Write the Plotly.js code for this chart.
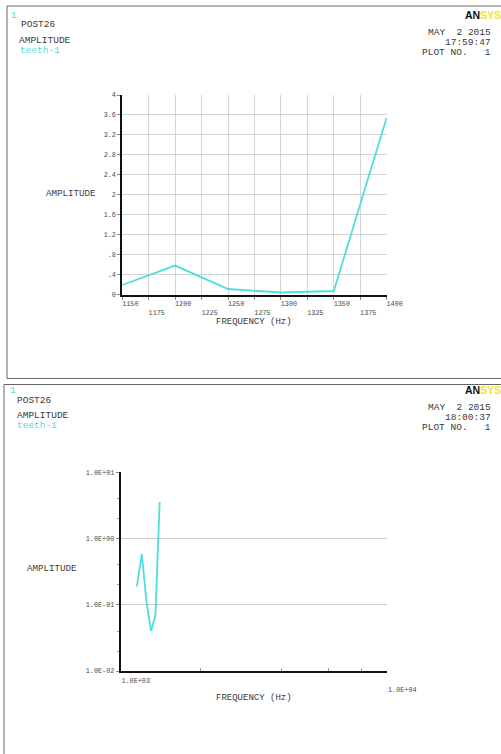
<!DOCTYPE html>
<html><head><meta charset="utf-8">
<script src="https://cdn.plot.ly/plotly-3.0.1.min.js"></script>
<style>html,body{margin:0;padding:0;background:#fff}#chart{width:501px;height:754px}</style>
</head><body><div id="chart"></div>
<script>
// ---- data ----
const freq = [1150, 1200, 1250, 1300, 1350, 1400];
const amplitude = [0.19, 0.58, 0.11, 0.04, 0.07, 3.55];

// ---- tick labels ----
const linXTicks = [1150, 1175, 1200, 1225, 1250, 1275, 1300, 1325, 1350, 1375, 1400];
const linXText = ['1150', '\u00a0<br>1175', '1200', '\u00a0<br>1225', '1250', '\u00a0<br>1275',
                  '1300', '\u00a0<br>1325', '1350', '\u00a0<br>1375', '1400'];
const linYTicks = [0, 0.4, 0.8, 1.2, 1.6, 2, 2.4, 2.8, 3.2, 3.6, 4];
const linYText = ['0', '.4', '.8', '1.2', '1.6', '2', '2.4', '2.8', '3.2', '3.6', '4'];
const logXTicks = [1000, 10000];
const logXText = ['1.0E+03', '\u00a0<br>1.0E+04'];
const logYTicks = [0.01, 0.1, 1, 10];
const logYText = ['1.0E-02', '1.0E-01', '1.0E+00', '1.0E+01'];
const logXMinor = [2000, 4000, 6000, 8000];
const logYMinor = [0.02, 0.04, 0.2, 0.4, 2, 4];

// ---- helpers (pixel -> paper) ----
const W = 501, H = 754;
const px = v => v / W;
const py = v => 1 - v / H;

const MONO = 'Liberation Mono, Courier New, monospace';
const tickFont = {family: MONO, size: 6.8, color: '#4a4a4a'};
const txtC = '#3a3a3a';
const gridC = '#d4d4d4';
const lineC = '#4fdede';

const traces = [
  {x: freq, y: amplitude, xaxis: 'x', yaxis: 'y', type: 'scatter', mode: 'lines',
   line: {color: lineC, width: 1.8}, hoverinfo: 'skip', showlegend: false},
  {x: freq, y: amplitude, xaxis: 'x2', yaxis: 'y2', type: 'scatter', mode: 'lines',
   line: {color: lineC, width: 1.8}, hoverinfo: 'skip', showlegend: false}
];

function ann(text, xPx, yPx, xanchor, opts) {
  return Object.assign({
    text: text, xref: 'paper', yref: 'paper', x: px(xPx), y: py(yPx),
    xanchor: xanchor, yanchor: 'middle', showarrow: false, borderpad: 0,
    font: {family: MONO, size: 9.5, color: txtC}
  }, opts || {});
}
const cyanFont = {family: MONO, size: 9.5, color: '#5fd8dc'};
const logoFont = {family: 'Liberation Sans, Arial, sans-serif', size: 10.5, color: '#111'};
const logoText = '<b>AN<span style="color:#f2e61c">SYS</span></b>';
const tight = {height: 8};

const annotations = [
  // top panel header
  ann('1', 9.5, 15.5, 'left', {font: cyanFont}),
  ann('POST26', 19.5, 25, 'left'),
  ann('AMPLITUDE', 18, 40.3, 'left'),
  ann('teeth-1', 19, 50.7, 'left', {font: cyanFont}),
  ann(logoText, 464, 15, 'left', {font: logoFont}),
  ann('MAY  2 2015', 492, 32.4, 'right', tight),
  ann('17:59:47', 492, 42.3, 'right', tight),
  ann('PLOT NO.   1', 492, 51.9, 'right', tight),
  // top plot axis titles
  ann('AMPLITUDE', 71, 193.3, 'center', {font: {family: MONO, size: 9.2, color: txtC}}),
  ann('FREQUENCY (Hz)', 254, 321, 'center', {font: {family: MONO, size: 9, color: txtC}, height: 9}),
  // bottom panel header
  ann('1', 8.5, 390.5, 'left', {font: cyanFont}),
  ann('POST26', 15.5, 400, 'left'),
  ann('AMPLITUDE', 15.5, 415.3, 'left'),
  ann('teeth-1', 15.5, 425.7, 'left', {font: cyanFont}),
  ann(logoText, 464, 390, 'left', {font: logoFont}),
  ann('MAY  2 2015', 492, 407.3, 'right', tight),
  ann('18:00:37', 492, 417.3, 'right', tight),
  ann('PLOT NO.   1', 492, 426.9, 'right', tight),
  // bottom plot axis titles
  ann('AMPLITUDE', 52, 568.3, 'center', {font: {family: MONO, size: 9.2, color: txtC}}),
  ann('FREQUENCY (Hz)', 254, 698.3, 'center', {font: {family: MONO, size: 9, color: txtC}})
];

const shapes = [
  {type: 'rect', xref: 'paper', yref: 'paper', x0: px(7), x1: px(520), y0: py(6), y1: py(378.5),
   line: {color: '#666', width: 1}},
  {type: 'rect', xref: 'paper', yref: 'paper', x0: px(4), x1: px(520), y0: py(384.5), y1: py(780),
   line: {color: '#666', width: 1}}
];

const layout = {
  width: W, height: H,
  margin: {l: 0, r: 0, t: 0, b: 0},
  paper_bgcolor: '#fff', plot_bgcolor: '#fff',
  showlegend: false,
  font: {family: MONO},
  xaxis: {
    domain: [px(122.3), px(386.7)], range: [1150, 1400], anchor: 'y',
    tickmode: 'array', tickvals: linXTicks, ticktext: linXText,
    ticks: 'outside', ticklen: 3, tickcolor: '#888', tickwidth: 1,
    showgrid: true, gridcolor: gridC, gridwidth: 1, zeroline: false,
    showline: true, linecolor: '#111', linewidth: 2,
    tickfont: tickFont, ticklabelshift: 8, ticklabelstandoff: -2
  },
  yaxis: {
    domain: [py(294.5), py(95)], range: [0, 4], anchor: 'x',
    tickmode: 'array', tickvals: linYTicks, ticktext: linYText,
    ticks: 'outside', ticklen: 3, tickcolor: '#888', tickwidth: 1,
    showgrid: true, gridcolor: gridC, gridwidth: 1, zeroline: false,
    showline: true, linecolor: '#111', linewidth: 2,
    tickfont: tickFont, ticklabelstandoff: 0
  },
  xaxis2: {
    domain: [px(120.7), px(387.3)], type: 'log', range: [3, 4], anchor: 'y2',
    tickmode: 'array', tickvals: logXTicks, ticktext: logXText,
    ticks: '', showgrid: true, gridcolor: gridC, zeroline: false,
    showline: true, linecolor: '#111', linewidth: 2,
    tickfont: tickFont, ticklabelshift: 15, ticklabelstandoff: 2,
    minor: {tickmode: 'array', tickvals: logXMinor, ticks: 'inside', ticklen: 3, tickcolor: '#999', tickwidth: 1, showgrid: false}
  },
  yaxis2: {
    domain: [py(671), py(472.3)], type: 'log', range: [-2, 1], anchor: 'x2',
    tickmode: 'array', tickvals: logYTicks, ticktext: logYText,
    ticks: 'outside', ticklen: 3, tickcolor: '#888', tickwidth: 1,
    showgrid: true, gridcolor: '#cacaca', zeroline: false,
    showline: true, linecolor: '#111', linewidth: 2,
    tickfont: tickFont, ticklabelstandoff: 0,
    minor: {tickmode: 'array', tickvals: logYMinor, ticks: 'outside', ticklen: 2, tickcolor: '#999', tickwidth: 1, showgrid: false}
  },
  annotations: annotations,
  shapes: shapes
};

Plotly.newPlot('chart', traces, layout, {staticPlot: true, displayModeBar: false});
</script>
</body></html>
